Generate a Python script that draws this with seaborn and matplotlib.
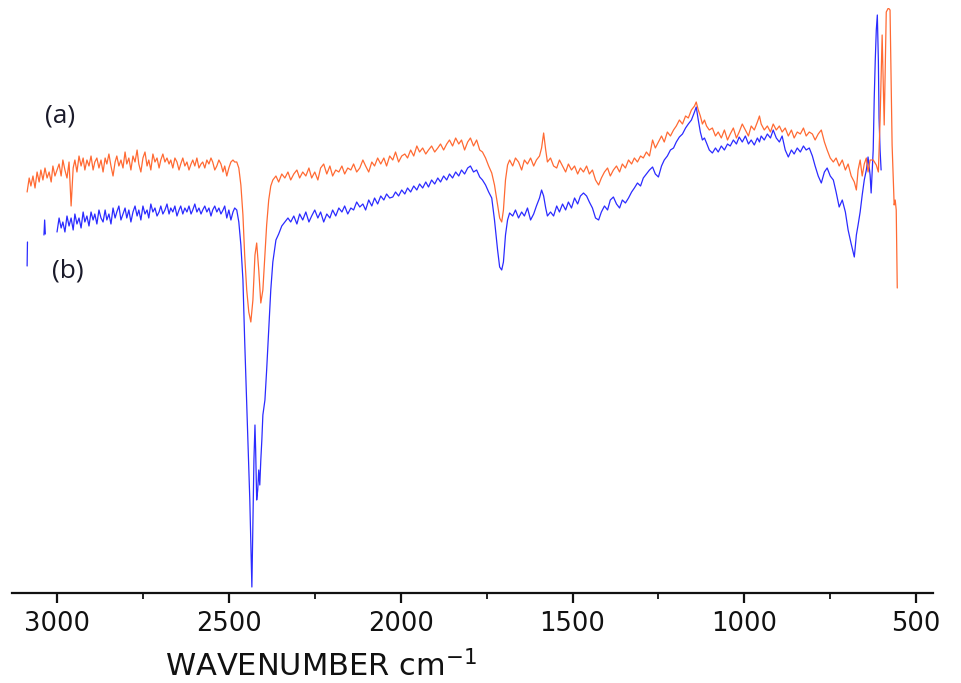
import numpy as np
import pandas as pd
import matplotlib
matplotlib.use("Agg")
import matplotlib.pyplot as plt
from matplotlib.ticker import MultipleLocator
import seaborn as sns

# ---------------- data (wavenumber cm-1, transmittance a.u.) ----------------
a_wn = [3087, 3081, 3076, 3070, 3064, 3058, 3052, 3047, 3041, 3035, 3029, 3023, 3017, 3012, 3006,
        3000, 2994, 2988, 2983, 2977, 2971, 2965, 2959, 2953, 2948, 2942, 2936, 2930, 2924, 2919,
        2913, 2907, 2901, 2895, 2890, 2884, 2878, 2872, 2866, 2860, 2855, 2849, 2843, 2837, 2831,
        2826, 2820, 2814, 2808, 2802, 2797, 2791, 2785, 2779, 2773, 2767, 2762, 2756, 2750, 2744,
        2738, 2733, 2727, 2721, 2715, 2709, 2703, 2698, 2692, 2686, 2680, 2674, 2669, 2663, 2657,
        2651, 2645, 2640, 2634, 2628, 2622, 2616, 2610, 2605, 2599, 2593, 2587, 2581, 2576, 2570,
        2564, 2558, 2552, 2547, 2541, 2535, 2529, 2523, 2517, 2512, 2506, 2500, 2494, 2488, 2483,
        2477,
        2471, 2465, 2459, 2454, 2448, 2442, 2436, 2430, 2424, 2419, 2413, 2407, 2401, 2395, 2390,
        2384, 2378, 2372,
        2363, 2355, 2346, 2337, 2328, 2320, 2311, 2302, 2294, 2285, 2276, 2267, 2259, 2250, 2241,
        2233, 2224, 2215, 2206, 2198, 2189, 2180, 2171, 2163, 2154, 2145, 2137, 2128, 2119, 2110,
        2102, 2093, 2084, 2076, 2067, 2058, 2049, 2041, 2032, 2023, 2015, 2006, 1997, 1988, 1980,
        1971, 1962, 1953, 1945, 1936, 1927, 1919, 1910, 1901, 1892, 1884, 1875, 1866, 1858, 1849,
        1840, 1831, 1823, 1814, 1805, 1797, 1788, 1779, 1770,
        1762, 1753, 1744, 1735, 1727, 1718, 1712, 1706, 1701, 1695, 1689, 1683, 1674, 1666, 1657,
        1648, 1640, 1631, 1622, 1613, 1605, 1596, 1590, 1584, 1578, 1573, 1564, 1555, 1546, 1538,
        1529, 1520, 1512, 1503, 1494, 1485, 1477, 1468, 1459, 1451, 1442, 1433, 1424, 1416, 1407,
        1398, 1390, 1381, 1372, 1363, 1355, 1346, 1337, 1328, 1320, 1311, 1302, 1294, 1285, 1276,
        1267, 1259, 1250, 1241, 1233, 1224, 1215, 1206, 1198, 1189, 1180, 1171, 1163, 1154, 1145,
        1140, 1134, 1128, 1122, 1116, 1110, 1102, 1093, 1084, 1076, 1067, 1058, 1049, 1041, 1032,
        1023, 1015, 1006, 997, 988, 980, 971, 962, 956, 951, 942, 933, 924, 916, 907,
        898, 890, 881, 872, 863, 855, 846, 837, 828, 820, 811, 802, 794, 785, 776,
        767, 759, 750, 741, 733, 724, 715, 706, 698, 689, 680, 674, 669, 663, 657,
        651, 645, 640, 634, 625, 616, 610, 605, 599, 593, 587, 581, 576, 570, 564,
        561, 558, 555]
a_T = [408, 422, 414, 424, 412, 428, 418, 430, 420, 432, 422, 428, 418, 434, 424,
       430, 436, 424, 440, 430, 422, 438, 394, 432, 440, 428, 444, 434, 442, 430,
       440, 434, 444, 430, 438, 442, 432, 440, 428, 442, 436, 446, 434, 424, 438,
       444, 434, 440, 432, 448, 436, 442, 430, 444, 438, 450, 436, 428, 442, 448,
       434, 440, 430, 446, 438, 442, 432, 440, 446, 438, 442, 436, 440, 432, 442,
       438, 430, 436, 442, 434, 438, 430, 436, 440, 434, 442, 432, 436, 438, 432,
       440, 436, 442, 438, 430, 434, 440, 436, 428, 434, 424, 432, 438, 440, 438,
       438,
       432, 415, 385, 345, 310, 288, 278, 300, 345, 357, 330, 297, 310, 345, 375,
       400, 414, 420,
       424, 418, 426, 422, 428, 420, 426, 430, 422, 428, 424, 432, 422, 428, 420,
       432, 436, 426, 434, 424, 430, 428, 434, 426, 432, 430, 436, 428, 432, 440,
       434, 428, 438, 434, 442, 436, 442, 434, 444, 440, 448, 438, 444, 446, 442,
       450, 444, 454, 448, 452, 446, 450, 454, 448, 452, 456, 450, 456, 460, 454,
       462, 456, 460, 450, 458, 462, 454, 460, 450,
       448, 442, 434, 427, 415, 395, 382, 378, 390, 420, 435, 440, 434, 442, 438,
       430, 440, 436, 442, 434, 440, 444, 452, 467, 450, 438, 442, 434, 432, 440,
       434, 428, 436, 430, 434, 426, 432, 428, 434, 426, 430, 420, 415, 422, 428,
       432, 424, 430, 434, 428, 436, 432, 440, 436, 442, 438, 444, 442, 448, 444,
       460, 452, 458, 464, 458, 468, 464, 470, 474, 480, 476, 484, 482, 490, 494,
       498, 490, 484, 476, 480, 474, 470, 472, 464, 468, 462, 470, 460, 466, 472,
       462, 468, 476, 470, 464, 474, 470, 478, 484, 476, 470, 474, 468, 476, 470,
       474, 468, 472, 464, 470, 462, 468, 466, 472, 464, 468, 466, 460, 466, 470,
       458, 450, 442, 438, 442, 434, 440, 430, 436, 424, 418, 410, 430, 440, 424,
       436, 442, 428, 440, 440, 435, 428, 480, 565, 475, 588, 592, 590, 455, 395,
       400, 390, 312]

b_seg0_wn = [3087, 3086]
b_seg0_T = [334, 358]
b_seg1_wn = [3038, 3036, 3034]
b_seg1_T = [365, 380, 366]
b_wn = [3000, 2994, 2988, 2983, 2977, 2971, 2965, 2959, 2953, 2948, 2942, 2936, 2930, 2924, 2919,
        2913, 2907, 2901, 2895, 2890, 2884, 2878, 2872, 2866, 2860, 2855, 2849, 2843, 2837, 2831,
        2826, 2820, 2814, 2808, 2802, 2797, 2791, 2785, 2779, 2773, 2767, 2762, 2756, 2750, 2744,
        2738, 2733, 2727, 2721, 2715, 2709, 2703, 2698, 2692, 2686, 2680, 2674, 2669, 2663, 2657,
        2651, 2645, 2640, 2634, 2628, 2622, 2616, 2610, 2605, 2599, 2593, 2587, 2581, 2576, 2570,
        2564, 2558, 2552, 2547, 2541, 2535, 2529, 2523, 2517, 2512, 2506, 2500, 2494, 2488, 2483,
        2477,
        2471, 2465, 2459, 2454, 2448, 2442, 2439, 2433, 2430, 2427, 2424, 2422, 2419, 2416, 2413,
        2410, 2407, 2404, 2401, 2395, 2390, 2384, 2378, 2372, 2363, 2355,
        2346, 2337, 2328, 2320, 2311, 2302, 2294, 2285, 2276, 2267, 2259, 2250, 2241,
        2233, 2224, 2215, 2206, 2198, 2189, 2180, 2171, 2163, 2154, 2145, 2137, 2128, 2119, 2110,
        2102, 2093, 2084, 2076, 2067, 2058, 2049, 2041, 2032, 2023, 2015, 2006, 1997, 1988, 1980,
        1971, 1962, 1953, 1945, 1936, 1927, 1919, 1910, 1901, 1892, 1884, 1875, 1866, 1858, 1849,
        1840, 1831, 1823, 1814, 1805, 1797, 1788, 1779,
        1770, 1762, 1753, 1744, 1735, 1727, 1718, 1712, 1706, 1701, 1695, 1689, 1683, 1674, 1666,
        1657, 1648, 1640, 1631, 1622, 1613, 1605, 1596, 1590, 1584, 1578, 1573, 1564, 1555, 1546,
        1538, 1529, 1520, 1512, 1503, 1494, 1485, 1477, 1468, 1459, 1451, 1442, 1433, 1424, 1416,
        1407, 1398, 1390, 1381, 1372, 1363, 1355, 1346, 1337, 1328, 1320, 1311, 1302, 1294, 1285,
        1276, 1267, 1259, 1250, 1241, 1233, 1224, 1215, 1206, 1198, 1189, 1180, 1171, 1163, 1154,
        1145, 1140, 1134, 1128, 1122, 1116, 1110, 1102, 1093, 1084, 1076, 1067, 1058, 1049, 1041,
        1032, 1023, 1015, 1006, 997, 988, 980, 971, 962, 956, 951, 942, 933, 924, 916,
        907, 898, 890, 881, 872, 863, 855, 846, 837, 828, 820, 811, 802, 794, 785,
        776, 767, 759, 750, 741, 733, 724, 715, 706, 698, 689, 680, 674, 669, 663,
        657, 651, 645, 640, 634, 631, 625, 622, 619, 616, 613, 610, 608, 605, 602]
b_T = [368, 382, 372, 378, 368, 384, 374, 382, 370, 386, 376, 382, 372, 388, 378,
       384, 374, 388, 380, 386, 376, 390, 382, 378, 390, 380, 386, 376, 392, 382,
       388, 394, 380, 386, 392, 382, 390, 378, 388, 394, 384, 390, 380, 394, 386,
       390, 382, 396, 388, 392, 384, 388, 394, 386, 390, 396, 386, 392, 388, 394,
       384, 390, 394, 386, 392, 388, 394, 386, 390, 396, 388, 392, 386, 390, 394,
       388, 392, 384, 390, 394, 388, 392, 386, 390, 394, 382, 390, 380, 388, 392,
       390,
       378, 355, 320, 260, 195, 130, 100, 13, 80, 140, 175, 150, 100, 110, 130,
       115, 140, 160, 185, 200, 230, 270, 310, 338, 360, 366,
       374, 378, 382, 378, 384, 376, 386, 380, 388, 378, 384, 390, 382,
       388, 378, 386, 382, 390, 384, 392, 388, 394, 386, 392, 390, 398, 393, 396,
       390, 400, 394, 402, 396, 404, 400, 406, 402, 403, 408, 404, 410, 406, 412,
       408, 414, 410, 416, 412, 418, 413, 420, 416, 422, 418, 424, 420, 426, 422,
       428, 424, 430, 426, 432, 434, 428, 430,
       423, 420, 415, 408, 402, 380, 350, 333, 330, 338, 365, 380, 387, 384, 390,
       382, 388, 384, 392, 380, 386, 394, 402, 410, 404, 392, 384, 388, 384, 394,
       388, 396, 390, 398, 392, 402, 396, 404, 407, 404, 398, 392, 382, 380, 388,
       394, 390, 400, 403, 396, 392, 400, 397, 402, 408, 412, 417, 414, 422, 426,
       430, 433, 426, 423, 434, 440, 444, 450, 452, 458, 463, 466, 472, 476, 480,
       488, 493, 480, 468, 460, 462, 457, 450, 447, 452, 448, 454, 450, 456, 454,
       460, 456, 463, 458, 464, 456, 460, 455, 462, 458, 464, 460, 466, 462, 470,
       462, 458, 464, 450, 443, 450, 446, 452, 448, 454, 450, 452, 444, 434, 424,
       417, 428, 432, 424, 420, 408, 393, 400, 388, 370, 356, 343, 365, 375, 388,
       405, 420, 430, 443, 425, 407, 450, 502, 540, 570, 585, 540, 482, 450, 430]

x_ticks = [3000, 2500, 2000, 1500, 1000, 500]
x_label = "WAVENUMBER cm$^{-1}$"
labels = ["(a)", "(b)"]

# ---------------- figure ----------------
sns.set_style("white")
plt.rcParams["font.family"] = ["DejaVu Sans"]
plt.rcParams["mathtext.fontset"] = "dejavusans"

fig = plt.figure(figsize=(9.61, 6.83), dpi=100)
ax = fig.add_axes([12 / 961, 90 / 683, 921 / 961, 585 / 683])

df_a = pd.DataFrame({"wn": a_wn, "T": a_T})
df_b = pd.DataFrame({
    "wn": b_seg0_wn + b_seg1_wn + b_wn,
    "T": b_seg0_T + b_seg1_T + b_T,
    "seg": [0] * len(b_seg0_wn) + [1] * len(b_seg1_wn) + [2] * len(b_wn),
})

sns.lineplot(data=df_b, x="wn", y="T", units="seg", estimator=None, sort=False,
             color="#2b2bff", lw=0.9, ax=ax)
sns.lineplot(data=df_a, x="wn", y="T", estimator=None, sort=False,
             color="#ff6a33", lw=0.9, ax=ax)

ax.set_xlim(3131, 451)
ax.set_ylim(7, 592)
ax.set_xticks(x_ticks)
ax.xaxis.set_minor_locator(MultipleLocator(250))
ax.set_yticks([])
ax.set_ylabel("")
for s in ["left", "right", "top"]:
    ax.spines[s].set_visible(False)
ax.spines["bottom"].set_linewidth(1.6)
ax.spines["bottom"].set_color("#111111")
ax.tick_params(axis="x", which="major", direction="out", length=7, width=1.6,
               labelsize=18.5, pad=6, colors="#111111", bottom=True)
ax.tick_params(axis="x", which="minor", direction="out", length=4, width=1.3,
               colors="#111111", bottom=True)
ax.set_xlabel(x_label, fontsize=22, color="#111111", va="center")
ax.xaxis.set_label_coords(0.336, -0.125)
ax.patch.set_alpha(0)

ax.text(0.052, 0.816, labels[0], transform=ax.transAxes, fontsize=19,
        family=["Open Sans", "DejaVu Sans"], color="#1a1a2a", ha="center", va="center")
ax.text(0.061, 0.55, labels[1], transform=ax.transAxes, fontsize=19,
        family=["Open Sans", "DejaVu Sans"], color="#1a1a2a", ha="center", va="center")

fig.savefig("out.png", dpi=100)
